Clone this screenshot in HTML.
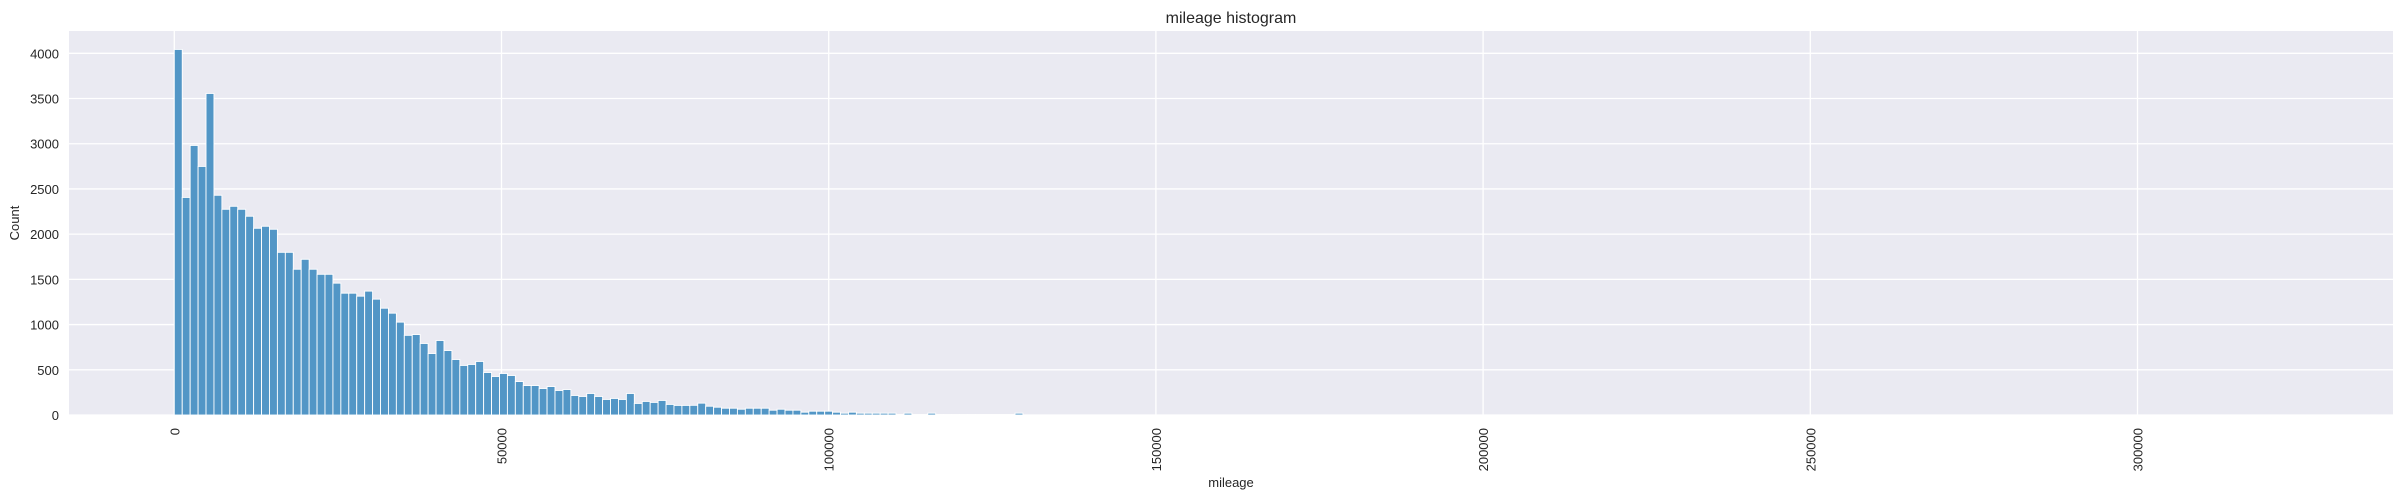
<!DOCTYPE html>
<html><head><meta charset="utf-8"><style>
html,body{margin:0;padding:0;background:#fff;}
svg{display:block;font-family:"Liberation Sans",Arial,sans-serif;}
</style></head><body>
<svg id="chart" width="2403" height="499" viewBox="0 0 2403 499" xmlns="http://www.w3.org/2000/svg">
<rect x="69" y="31" width="2324" height="384" fill="#eaeaf2"/>
<g id="grid"></g>
<g id="bars"></g>
<g id="ticks"></g>
<text x="1231" y="23" font-size="16" text-anchor="middle" fill="#262626">mileage histogram</text>
<text x="1231" y="487" font-size="13" text-anchor="middle" fill="#262626">mileage</text>
<text transform="translate(19,223) rotate(-90)" font-size="13" text-anchor="middle" fill="#262626">Count</text>
</svg>
<script>
const binWidth = 1212;
const counts = [4043,2406,2981,2749,3556,2430,2275,2308,2275,2198,2065,2087,2054,1799,1799,1612,1722,1612,1556,1556,
1458,1347,1347,1314,1370,1281,1181,1126,1027,
881,890,791,680,824,713,614,548,559,592,470,426,459,437,370,326,326,293,315,271,282,216,205,238,205,172,183,172,238,128,150,139,161,117,106,106,107,
131,97,86,75,75,64,75,75,75,53,64,53,53,31,42,42,42,31,20,31,20,20,20,20,20,
5,20,5,5,20,5,5,5,5,5,5,5,5,5,5,20];
const xTicks = [0,50000,100000,150000,200000,250000,300000];
const yTicks = [0,500,1000,1500,2000,2500,3000,3500,4000];

const NS = "http://www.w3.org/2000/svg";
const PL = 69, PR = 2393, PT = 31, PB = 415;
const x0px = 174.3, pxPer = 327.2/50000;
function xs(v){ return x0px + v*pxPer; }
const yScale = (415 - 53.3)/4000;
function ys(v){ return PB - v*yScale; }

const grid = document.getElementById('grid');
const bars = document.getElementById('bars');
const ticks = document.getElementById('ticks');
function mk(tag, attrs){ const e=document.createElementNS(NS,tag); for(const k in attrs) e.setAttribute(k,attrs[k]); return e; }

yTicks.forEach(t=>{
  const l = mk('line',{x1:PL,x2:PR,y1:ys(t),y2:ys(t),stroke:'#ffffff','stroke-width':1.3});
  
  
  grid.appendChild(l);
  const tx = mk('text',{x:PL-10,y:ys(t)+5,'font-size':13,'text-anchor':'end',fill:'#262626'});
  
  
  tx.textContent = t;
  ticks.appendChild(tx);
});
xTicks.forEach(t=>{
  const l = mk('line',{x1:xs(t),x2:xs(t),y1:PT,y2:PB,stroke:'#ffffff','stroke-width':1.3});
  
  
  grid.appendChild(l);
  const tx = mk('text',{transform:`translate(${xs(t)+5},${PB+13}) rotate(-90)`,'font-size':13,'text-anchor':'end',fill:'#262626'});
  
  
  tx.textContent = t;
  ticks.appendChild(tx);
});
counts.forEach((c,i)=>{
  if(c<=0) return;
  const xa = xs(i*binWidth), xb = xs((i+1)*binWidth);
  const r = mk('rect',{x:xa,y:ys(c),width:xb-xa,height:PB-ys(c),fill:'#5296c6',stroke:'#ffffff','stroke-width':0.9});
  
  
  bars.appendChild(r);
});
</script>
</body></html>
